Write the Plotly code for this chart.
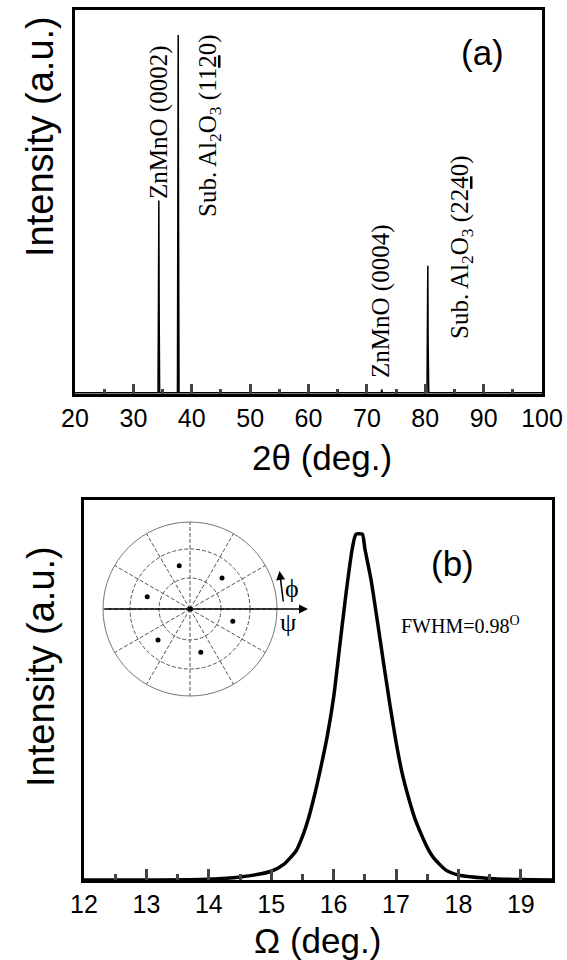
import plotly.graph_objects as go

# ---------------- data: panel (a) 2theta scan ----------------
two_theta = [20.0, 34.22, 34.30, 34.36, 34.42, 34.50, 37.55, 37.62, 37.68, 37.74, 37.82,
             72.45, 72.55, 72.65, 80.30, 80.38, 80.44, 80.50, 80.60, 100.0]
intensity_a = [0.003, 0.003, 0.25, 0.504, 0.20, 0.003, 0.003, 0.50, 0.935, 0.45, 0.003,
               0.003, 0.012, 0.003, 0.003, 0.20, 0.334, 0.12, 0.003, 0.003]

peak_labels = ["ZnMnO (0002)", "Sub. Al<sub>2</sub>O<sub>3</sub> (11<u>2</u>0)",
               "ZnMnO (0004)", "Sub. Al<sub>2</sub>O<sub>3</sub> (22<u>4</u>0)"]
x_ticks_a = [20, 30, 40, 50, 60, 70, 80, 90, 100]

# ---------------- data: panel (b) omega rocking curve ----------------
omega = [12.0, 13.0, 14.0, 14.5, 15.0, 15.2, 15.4, 15.5, 15.6, 15.7, 15.8, 15.9, 16.0,
         16.1, 16.2, 16.3, 16.36, 16.46, 16.5, 16.6, 16.7, 16.8, 16.9, 17.0, 17.1,
         17.2, 17.3, 17.4, 17.5, 17.6, 17.8, 18.0, 18.5, 19.0, 19.5]
intensity_b = [0.0, 0.0, 0.002, 0.008, 0.023, 0.041, 0.077, 0.114, 0.164, 0.227, 0.30,
               0.38, 0.48, 0.618, 0.755, 0.873, 0.91, 0.91, 0.873, 0.79, 0.683, 0.572,
               0.464, 0.364, 0.28, 0.217, 0.163, 0.122, 0.086, 0.059, 0.026, 0.013,
               0.004, 0.001, 0.0]
x_ticks_b = [12, 13, 14, 15, 16, 17, 18, 19]

# inset pole figure: six spots (+ centre)
pole_r = [44.5, 44.5, 44.5, 44.5, 44.5, 44.5]
pole_theta = [44, 104, 164, 224, 284, 344]

W, H = 567, 960


def px(x):
    return x / W


def py(y):
    return 1 - y / H


fig = go.Figure()
fig.add_trace(go.Scatter(x=two_theta, y=intensity_a, mode="lines",
                         line=dict(color="black", width=1.5), xaxis="x", yaxis="y",
                         showlegend=False))
fig.add_trace(go.Scatter(x=omega, y=intensity_b, mode="lines",
                         line=dict(color="black", width=3.5, shape="spline", smoothing=0.6),
                         xaxis="x2", yaxis="y2", showlegend=False))
fig.add_trace(go.Scatterpolar(r=pole_r + [0], theta=pole_theta + [0], mode="markers",
                              marker=dict(color="black", size=5), subplot="polar",
                              showlegend=False))

axis_common = dict(showline=True, linecolor="black", linewidth=3, mirror=True,
                   showgrid=False, zeroline=False)
sans = "Liberation Sans, Arial, sans-serif"
serif = "Liberation Serif, Times New Roman, serif"

fig.update_layout(
    width=W, height=H,
    margin=dict(l=0, r=0, t=0, b=0),
    paper_bgcolor="white", plot_bgcolor="white",
    xaxis=dict(domain=[px(75), px(542)], range=[20, 100], anchor="y",
               tickvals=x_ticks_a, ticks="inside", ticklen=10, tickwidth=3,
               minor=dict(dtick=5, tick0=0, ticks="inside", ticklen=5, tickwidth=2.5),
               tickfont=dict(family=sans, size=25, color="black"), automargin=False,
               **axis_common),
    yaxis=dict(domain=[py(394), py(10)], range=[0, 1], anchor="x",
               showticklabels=False, ticks="", automargin=False, **axis_common),
    xaxis2=dict(domain=[px(84), px(552)], range=[12, 19.5], anchor="y2",
                tickvals=x_ticks_b, ticks="inside", ticklen=11, tickwidth=3,
                minor=dict(dtick=0.5, tick0=0, ticks="inside", ticklen=6, tickwidth=2.5),
                tickfont=dict(family=sans, size=25, color="black"), automargin=False,
                **axis_common),
    yaxis2=dict(domain=[py(880), py(500)], range=[0, 1], anchor="x2",
                showticklabels=False, ticks="", automargin=False, **axis_common),
    polar=dict(
        domain=dict(x=[px(190 - 87), px(190 + 87)], y=[py(609 + 87), py(609 - 87)]),
        bgcolor="rgba(0,0,0,0)",
        radialaxis=dict(range=[0, 87], tickvals=[31, 60], showticklabels=False,
                        ticks="", showline=False, gridcolor="#555", gridwidth=1,
                        griddash="4px,2px"),
        angularaxis=dict(dtick=30, showticklabels=False, ticks="", showline=True,
                         linecolor="#777", linewidth=1,
                         gridcolor="#555", gridwidth=1, griddash="4px,2px"),
    ),
)

ann = []
# axis titles
ann.append(dict(x=px(40), y=py(137), text="Intensity (a.u.)", textangle=-90,
                font=dict(family=sans, size=38, color="black")))
ann.append(dict(x=px(41), y=py(667), text="Intensity (a.u.)", textangle=-90,
                font=dict(family=sans, size=38, color="black")))
ann.append(dict(x=px(322), y=py(457), text="2θ (deg.)",
                font=dict(family=sans, size=35, color="black")))
ann.append(dict(x=px(317), y=py(940), text="Ω (deg.)",
                font=dict(family=sans, size=35, color="black")))
# panel labels
ann.append(dict(x=px(482), y=py(53), text="(a)", font=dict(family=sans, size=35, color="black")))
ann.append(dict(x=px(452), y=py(563), text="(b)", font=dict(family=sans, size=35, color="black")))
# peak labels
label_pos = [(159, 123), (210, 126), (381, 302), (461, 247)]
for t, (lx, ly) in zip(peak_labels, label_pos):
    ann.append(dict(x=px(lx), y=py(ly), text=t, textangle=-90,
                    font=dict(family=serif, size=25, color="black")))
ann.append(dict(x=px(399), y=py(625), text="FWHM=0.98<sup>O</sup>", xanchor="left",
                font=dict(family=serif, size=20, color="black")))
# inset axes arrows and symbols
ann.append(dict(x=px(308), y=py(609), ax=-205, ay=0, text="", showarrow=True,
                arrowhead=2, arrowsize=1.2, arrowwidth=1.5, arrowcolor="black"))
ann.append(dict(x=px(279.5), y=py(571), ax=4, ay=32, text="", showarrow=True,
                arrowhead=2, arrowsize=1.2, arrowwidth=1.5, arrowcolor="black"))
ann.append(dict(x=px(292), y=py(588), text="ϕ", font=dict(family=serif, size=26, color="#000000")))
ann.append(dict(x=px(288), y=py(622), text="ψ", font=dict(family=serif, size=26, color="#000000")))

for a in ann:
    a.setdefault("showarrow", False)
    a.setdefault("xref", "paper")
    a.setdefault("yref", "paper")
    a.setdefault("xanchor", "center")
    a.setdefault("yanchor", "middle")
fig.update_layout(annotations=ann)

fig.write_html("out.html", config={"displayModeBar": False},
               post_script="document.body.style.margin='0';document.body.style.overflow='hidden';")
